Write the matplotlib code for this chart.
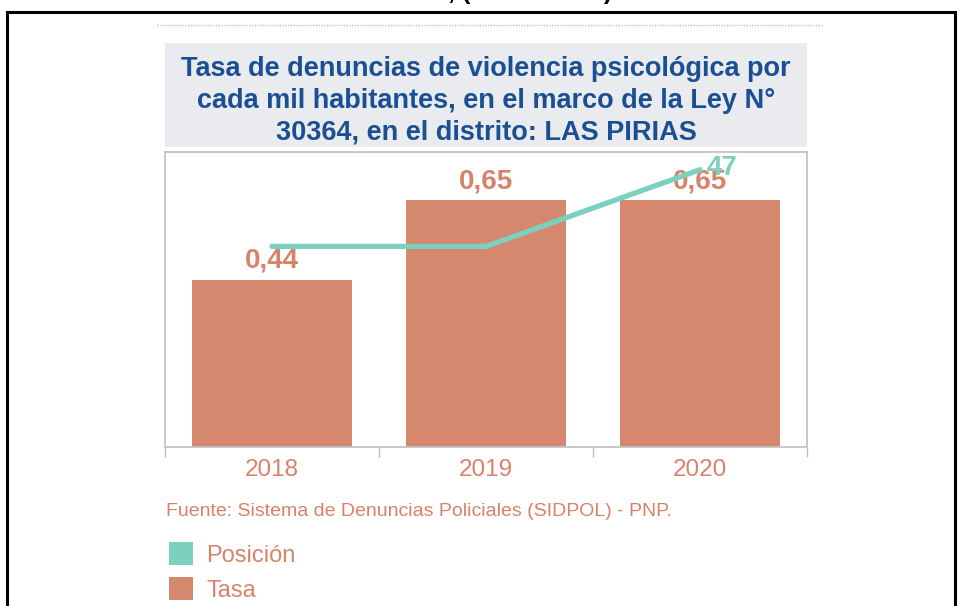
import numpy as np
import matplotlib.pyplot as plt
from matplotlib.patches import Rectangle, Patch
from matplotlib.lines import Line2D

plt.rcParams['font.family'] = ['Liberation Sans', 'DejaVu Sans']

# data
years = ['2018', '2019', '2020']
tasa = [0.44, 0.65, 0.65]
posicion = [34, 34, 47]
series = ['Posición', 'Tasa']

bar_color = '#D6886F'
line_color = '#7BD0BE'
text_color = '#D9826A'
title_color = '#1B4F93'

W, H = 960, 606
fig = plt.figure(figsize=(W / 100, H / 100), dpi=100)

def fx(px):
    return px / W

def fy(py):
    return 1 - py / H

# outer black frame (partly cut off at the bottom)
fig.patches.append(Rectangle((fx(7), fy(640)), fx(948), fy(12) - fy(640),
                             transform=fig.transFigure, fill=False,
                             edgecolor='black', linewidth=2.2))
# cut-off heading at the very top
fig.text(fx(530), fy(-1), ', (2018 - 2020)', ha='center', va='baseline',
         fontsize=18, fontweight='bold', color='black')
# dotted separator
fig.add_artist(Line2D([fx(157), fx(822)], [fy(25), fy(25)], color='#BDBDBD',
                      linewidth=1, linestyle=(0, (1, 1))))

# title box
fig.patches.append(Rectangle((fx(165), fy(147)), fx(642), fy(43) - fy(147),
                             transform=fig.transFigure, facecolor='#E9EBEF',
                             edgecolor='none'))
fig.text(fx(486), fy(100.5), 'Tasa de denuncias de violencia psicológica por\n'
         'cada mil habitantes, en el marco de la Ley N°\n'
         '30364, en el distrito: LAS PIRIAS',
         ha='center', va='center', fontsize=19.5, fontweight='bold',
         color=title_color, linespacing=1.3)

ax = fig.add_axes([fx(165), fy(447), fx(642), fy(152) - fy(447)])
x = np.arange(len(years))
bars = ax.bar(x, tasa, width=0.75, color=bar_color)
ax.set_xlim(-0.5, 2.5)
ax.set_ylim(0, 0.775)
ax.set_yticks([])
ax.set_xticks(x)
ax.set_xticklabels(years, fontsize=17.5, color=text_color)
ax.tick_params(axis='x', which='major', length=0, pad=9)
ax.set_xticks([-0.5, 0.5, 1.5, 2.5], minor=True)
ax.tick_params(axis='x', which='minor', length=7, color='#BDBDBD', width=1)
for s in ax.spines.values():
    s.set_color('#C4C4C4')
    s.set_linewidth(1.3)

for xi, v in zip(x, tasa):
    ax.annotate(f'{v:.2f}'.replace('.', ','), (xi, v), xytext=(0, 4),
                textcoords='offset points', ha='center', va='bottom',
                fontsize=20, fontweight='bold', color=text_color)

ax2 = ax.twinx()
ax2.plot(x, posicion, color=line_color, linewidth=3.8, solid_capstyle='round')
ax2.set_ylim(0, 50)
ax2.axis('off')
ax2.annotate(str(posicion[-1]), (x[-1], posicion[-1]), xytext=(5, 1),
             textcoords='offset points', ha='left', va='center',
             fontsize=20, fontweight='bold', color=line_color)

fig.text(fx(166), fy(511), 'Fuente: Sistema de Denuncias Policiales (SIDPOL) - PNP.',
         ha='left', va='center', fontsize=14, color=text_color)

handles = [Patch(facecolor=line_color), Patch(facecolor=bar_color)]
fig.legend(handles, series, loc='upper left',
           bbox_to_anchor=(fx(160), fy(533)), frameon=False, fontsize=17,
           labelcolor=text_color, handlelength=1.0, handleheight=1.1,
           handletextpad=0.55, labelspacing=0.45, borderaxespad=0)

fig.savefig('out.png', dpi=100)
